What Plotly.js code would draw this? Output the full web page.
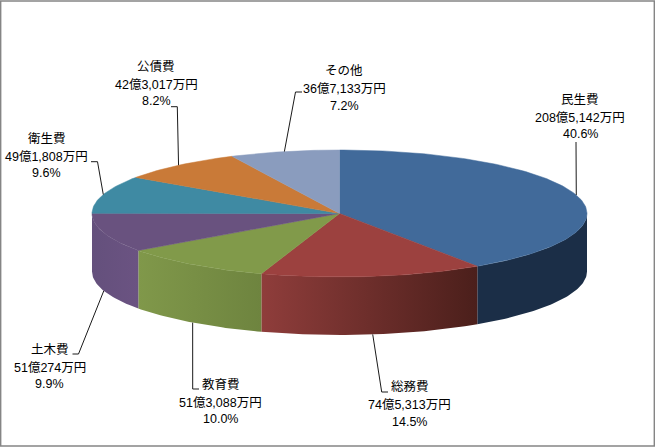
<!DOCTYPE html>
<html><head><meta charset="utf-8">
<script src="https://cdn.plot.ly/plotly-3.0.1.min.js"></script>
<style>html,body{margin:0;padding:0;background:#fff}#c{width:655px;height:447px}</style></head>
<body><div id="c"></div>
<script>
const categories = ['民生費','総務費','教育費','土木費','衛生費','公債費','その他'];
const amounts = [208.5142, 74.5313, 51.3088, 51.0274, 49.1808, 42.3017, 36.7133];
const amountLabels = ['208億5,142万円','74億5,313万円','51億3,088万円','51億274万円','49億1,808万円','42億3,017万円','36億7,133万円'];
const percentLabels = ['40.6%','14.5%','10.0%','9.9%','9.6%','8.2%','7.2%'];
const topColors = ['#416a9a','#9c413f','#819a4a','#69527f','#3f8aa3','#c97a38','#8a9cbe'];
const wallLeft = ['#1b2e47','#8f3d3b','#80984a','#64507c'];
const wallRight = ['#1b2e47','#4b1f1b','#6e843f','#6b5382'];
const labelX = [580,409.5,220.8,49.5,46.8,156,344];
const labelY = [99,386.7,384,349,138,66,70.5];
const leaderBends = [[[576,142]],[[381.7,392],[388,392]],[[192.7,389],[199,389]],[[78.5,354],[72.5,354]],[[97.5,161.7],[91,161.7]],[[177.3,106.7],[171,106.7]],[[295.5,92],[302,92]]];
const lineOffsets = [0,18.5,35];

const cx=339.5, cy=213.5, rx=247.5, ry=63.5, depth=58;
const total = amounts.reduce((a,b)=>a+b,0);
const pt=(deg,dy=0)=>{const t=deg*Math.PI/180;return [cx+rx*Math.sin(t), cy-ry*Math.cos(t)+dy];};
function arc(a,b,dy=0){const n=Math.max(2,Math.ceil(Math.abs(b-a)));const o=[];for(let i=0;i<=n;i++)o.push(pt(a+(b-a)*i/n,dy));return o;}
const traces=[]; const annotations=[];
const poly=(pts,extra)=>Object.assign({type:'scatter',mode:'lines',x:pts.map(p=>p[0]),y:pts.map(p=>p[1]),fill:'toself',hoverinfo:'skip',showlegend:false},extra);
let cum=0; const spans=amounts.map(v=>{const a=cum/total*360;cum+=v;return [a,cum/total*360];});
// side walls (front half only)
spans.forEach(([a,b],i)=>{
  const s=Math.max(a,90), e=Math.min(b,270);
  if(e<=s) return;
  const pts=arc(s,e).concat(arc(e,s,depth));
  pts.push(pts[0]);
  traces.push(poly(pts,{line:{width:0},fillcolor:wallRight[i],
    fillgradient:{type:'horizontal',colorscale:[[0,wallLeft[i]],[1,wallRight[i]]]}}));
});
// top faces
spans.forEach(([a,b],i)=>{
  const pts=[[cx,cy]].concat(arc(a,b)); pts.push([cx,cy]);
  traces.push(poly(pts,{line:{width:0.5,color:topColors[i]},fillcolor:topColors[i],name:categories[i]}));
});
// leader lines and labels
spans.forEach(([a,b],i)=>{
  const m=(a+b)/2, front=m>90&&m<270;
  const path=[pt(m,front?depth:0)].concat(leaderBends[i]);
  traces.push({type:'scatter',mode:'lines',x:path.map(p=>p[0]),y:path.map(p=>p[1]),line:{color:'#1a1a1a',width:1},hoverinfo:'skip',showlegend:false});
  [categories[i],amountLabels[i],percentLabels[i]].forEach((t,k)=>{
    annotations.push({x:labelX[i],y:labelY[i]+lineOffsets[k],xref:'x',yref:'y',text:t,showarrow:false,xanchor:'center',yanchor:'middle',borderpad:0,
      font:{family:'"Liberation Sans","Noto Sans CJK JP",sans-serif',size:12.5,color:'#000'}});
  });
});
Plotly.newPlot('c',traces,{
  width:655,height:447,margin:{l:0,r:0,t:0,b:0},paper_bgcolor:'#fff',plot_bgcolor:'#fff',showlegend:false,
  xaxis:{range:[0,655],visible:false,fixedrange:true},
  yaxis:{range:[447,0],visible:false,fixedrange:true},
  annotations,
  shapes:[{type:'rect',xref:'paper',yref:'paper',x0:0.001,x1:0.999,y0:0.002,y1:0.998,line:{color:'#858585',width:1.5},fillcolor:'rgba(0,0,0,0)'}]
},{staticPlot:true,displayModeBar:false});
</script></body></html>
